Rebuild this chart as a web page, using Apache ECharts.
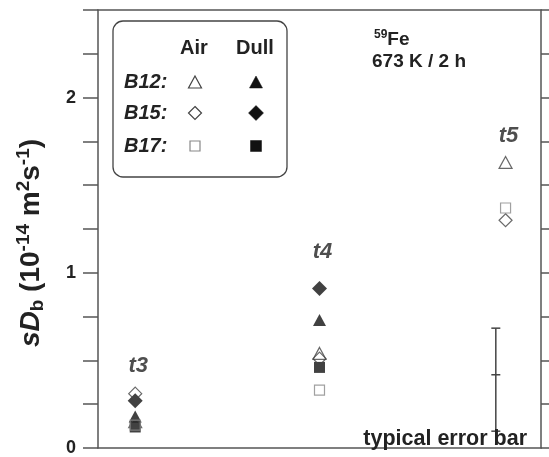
<!DOCTYPE html>
<html><head><meta charset="utf-8">
<script src="https://cdn.jsdelivr.net/npm/echarts@6/dist/echarts.min.js"></script>
<style>html,body{margin:0;padding:0;background:#fff}#chart{width:549px;height:457px}</style>
</head><body><div id="chart"></div>
<script>
// Annealing stages and their horizontal slots on a hidden 0..10 scale
const stageNames = ['t3', 't4', 't5'];
const stageX = [0.84, 5.0, 9.2];
const stageLabelY = [0.47, 1.12, 1.78];

// sD_b values (10^-14 m^2 s^-1) per sample and surface state
const b12Air  = [0.15, 0.54, 1.63];
const b12Dull = [0.18, 0.73, null];
const b15Air  = [0.31, 0.51, 1.30];
const b15Dull = [0.27, 0.91, null];
const b17Air  = [0.13, 0.33, 1.37];
const b17Dull = [0.12, 0.46, null];

// typical error bar: x, low, mid, high
const errorBar = [8.98, 0.096, 0.418, 0.684];

const yLabelled = [0, 1, 2];

const FONT = 'Liberation Sans, Arial, sans-serif';
const AXIS = '#555';
const HOLLOW = '#444';

function pts(arr) {
  return stageX.map((x, i) => arr[i] == null ? null : [x, arr[i]]).filter(d => d);
}

function scatter(name, data, symbol, size, filled, stroke) {
  return {
    name, type: 'scatter', data: pts(data), symbol, symbolSize: size,
    itemStyle: filled
      ? { color: '#111' }
      : { color: 'rgba(255,255,255,0)', borderColor: stroke || HOLLOW, borderWidth: 1.2 },
    emphasis: { disabled: true }, z: filled ? 3 : 4
  };
}

// legend glyphs drawn as plain shapes
function glyph(kind, cx, cy, filled, stroke) {
  const style = filled
    ? { fill: '#111', stroke: '#111', lineWidth: 0.5 }
    : { fill: 'none', stroke: stroke || HOLLOW, lineWidth: 1.2 };
  if (kind === 'tri') {
    const w = 13, h = 12;
    return { type: 'polygon', shape: { points: [[cx, cy - h / 2], [cx + w / 2, cy + h / 2], [cx - w / 2, cy + h / 2]] }, style };
  }
  if (kind === 'dia') {
    const r = filled ? 7.5 : 6.5;
    return { type: 'polygon', shape: { points: [[cx, cy - r], [cx + r, cy], [cx, cy + r], [cx - r, cy]] }, style };
  }
  const s = filled ? 11 : 10;
  return { type: 'rect', shape: { x: cx - s / 2, y: cy - s / 2, width: s, height: s }, style };
}

const legendRows = [['B12:', 'tri', 82], ['B15:', 'dia', 113], ['B17:', 'sq', 146]];
const airX = 195, dullX = 256;

const txt = (size, extra) => Object.assign({ fontSize: size, fontWeight: 'bold', fontFamily: FONT, fill: '#222' }, extra || {});

const graphics = [
  { type: 'rect', shape: { x: 113, y: 21, width: 174, height: 156, r: 10 },
    style: { fill: 'none', stroke: '#444', lineWidth: 1.3 }, z: 10 },
  { type: 'text', x: 194, y: 48, style: { text: 'Air', font: 'bold 20px ' + FONT, fill: '#222', align: 'center', verticalAlign: 'middle' }, z: 10 },
  { type: 'text', x: 255, y: 48, style: { text: 'Dull', font: 'bold 20px ' + FONT, fill: '#222', align: 'center', verticalAlign: 'middle' }, z: 10 },
  { type: 'text', x: 374, y: 40, style: {
      text: '{sup|59}{n|Fe}',
      rich: { sup: txt(12, { verticalAlign: 'top' }), n: txt(19, { lineHeight: 22 }) },
      verticalAlign: 'middle' }, z: 10 },
  { type: 'text', x: 372, y: 62, style: { text: '673 K / 2 h', font: 'bold 19px ' + FONT, fill: '#222', verticalAlign: 'middle' }, z: 10 },
  { type: 'text', x: 527, y: 439, style: { text: 'typical error bar', font: 'bold 21.5px ' + FONT, fill: '#222', align: 'right', verticalAlign: 'middle' }, z: 10 },
  // vertical axis title
  { type: 'text', x: 31, y: 243, rotation: Math.PI / 2, style: {
      text: '{i|sD}{sub|b}{n| (10}{sup|-14}{n| m}{sup|2}{n|s}{sup|-1}{n|)}',
      align: 'center', verticalAlign: 'middle',
      rich: {
        i: txt(28, { fontStyle: 'italic', lineHeight: 33 }),
        n: txt(28, { lineHeight: 33 }),
        sub: txt(19, { verticalAlign: 'bottom' }),
        sup: txt(19, { verticalAlign: 'top' })
      } }, z: 10 }
];
legendRows.forEach(([label, kind, y]) => {
  graphics.push({ type: 'text', x: 124, y, style: { text: label, font: 'italic bold 20px ' + FONT, fill: '#222', verticalAlign: 'middle' }, z: 10 });
  graphics.push(Object.assign(glyph(kind, airX, y, false, kind === 'sq' ? '#888' : HOLLOW), { z: 10 }));
  graphics.push(Object.assign(glyph(kind, dullX, y, true), { z: 10 }));
});

const chart = echarts.init(document.getElementById('chart'), null, { renderer: 'canvas' });
chart.setOption({
  backgroundColor: '#fff',
  animation: false,
  grid: { left: 98, top: 10, right: 8, bottom: 5, containLabel: false },
  xAxis: [
    { type: 'value', min: 0, max: 10, position: 'bottom',
      axisLine: { show: true, onZero: false, lineStyle: { color: AXIS, width: 1.5 } },
      axisTick: { show: false }, axisLabel: { show: false }, splitLine: { show: false } },
    { type: 'value', min: 0, max: 10, position: 'top',
      axisLine: { show: true, onZero: false, lineStyle: { color: AXIS, width: 1.5 } },
      axisTick: { show: false }, axisLabel: { show: false }, splitLine: { show: false } }
  ],
  yAxis: [
    { type: 'value', min: 0, max: 2.5, interval: 0.25, position: 'left',
      axisLine: { show: true, onZero: false, lineStyle: { color: AXIS, width: 1.5 } },
      axisTick: { show: true, inside: false, length: 15, lineStyle: { color: AXIS, width: 1.5 } },
      axisLabel: { formatter: v => yLabelled.includes(v) ? String(v) : '', margin: 22,
        fontSize: 18, fontWeight: 'bold', fontFamily: FONT, color: '#222' },
      splitLine: { show: false } },
    { type: 'value', min: 0, max: 2.5, interval: 0.25, position: 'right',
      axisLine: { show: true, onZero: false, lineStyle: { color: AXIS, width: 1.5 } },
      axisTick: { show: true, inside: false, length: 8, lineStyle: { color: AXIS, width: 1.5 } },
      axisLabel: { show: false }, splitLine: { show: false } }
  ],
  series: [
    scatter('B12 Dull', b12Dull, 'triangle', [13, 12], true),
    scatter('B15 Dull', b15Dull, 'diamond', [15, 15], true),
    scatter('B17 Dull', b17Dull, 'rect', [11, 11], true),
    scatter('B12 Air', b12Air, 'triangle', [13, 12], false),
    scatter('B15 Air', b15Air, 'diamond', [13, 13], false),
    scatter('B17 Air', b17Air, 'rect', [10, 10], false, '#888'),
    { name: 'stage', type: 'scatter', symbolSize: 0,
      data: stageNames.map((n, i) => ({ name: n, value: [stageX[i], stageLabelY[i]] })),
      label: { show: true, position: 'inside', offset: [3, 0], formatter: p => p.name,
        fontSize: 22, fontWeight: 'bold', fontStyle: 'italic', fontFamily: FONT, color: '#222' },
      emphasis: { disabled: true }, z: 5 },
    { name: 'typical error', type: 'custom', data: [errorBar],
      encode: { x: 0, y: [1, 2, 3] },
      renderItem: (params, api) => {
        const x = api.value(0);
        const lo = api.coord([x, api.value(1)]);
        const mid = api.coord([x, api.value(2)]);
        const hi = api.coord([x, api.value(3)]);
        const hw = 4.5;
        const style = { stroke: '#444', lineWidth: 1.5 };
        const cap = p => ({ type: 'line', shape: { x1: p[0] - hw, y1: p[1], x2: p[0] + hw, y2: p[1] }, style });
        return { type: 'group', children: [
          { type: 'line', shape: { x1: lo[0], y1: lo[1], x2: hi[0], y2: hi[1] }, style },
          cap(lo), cap(mid), cap(hi)
        ] };
      } }
  ],
  graphic: graphics
});
</script>
</body></html>
